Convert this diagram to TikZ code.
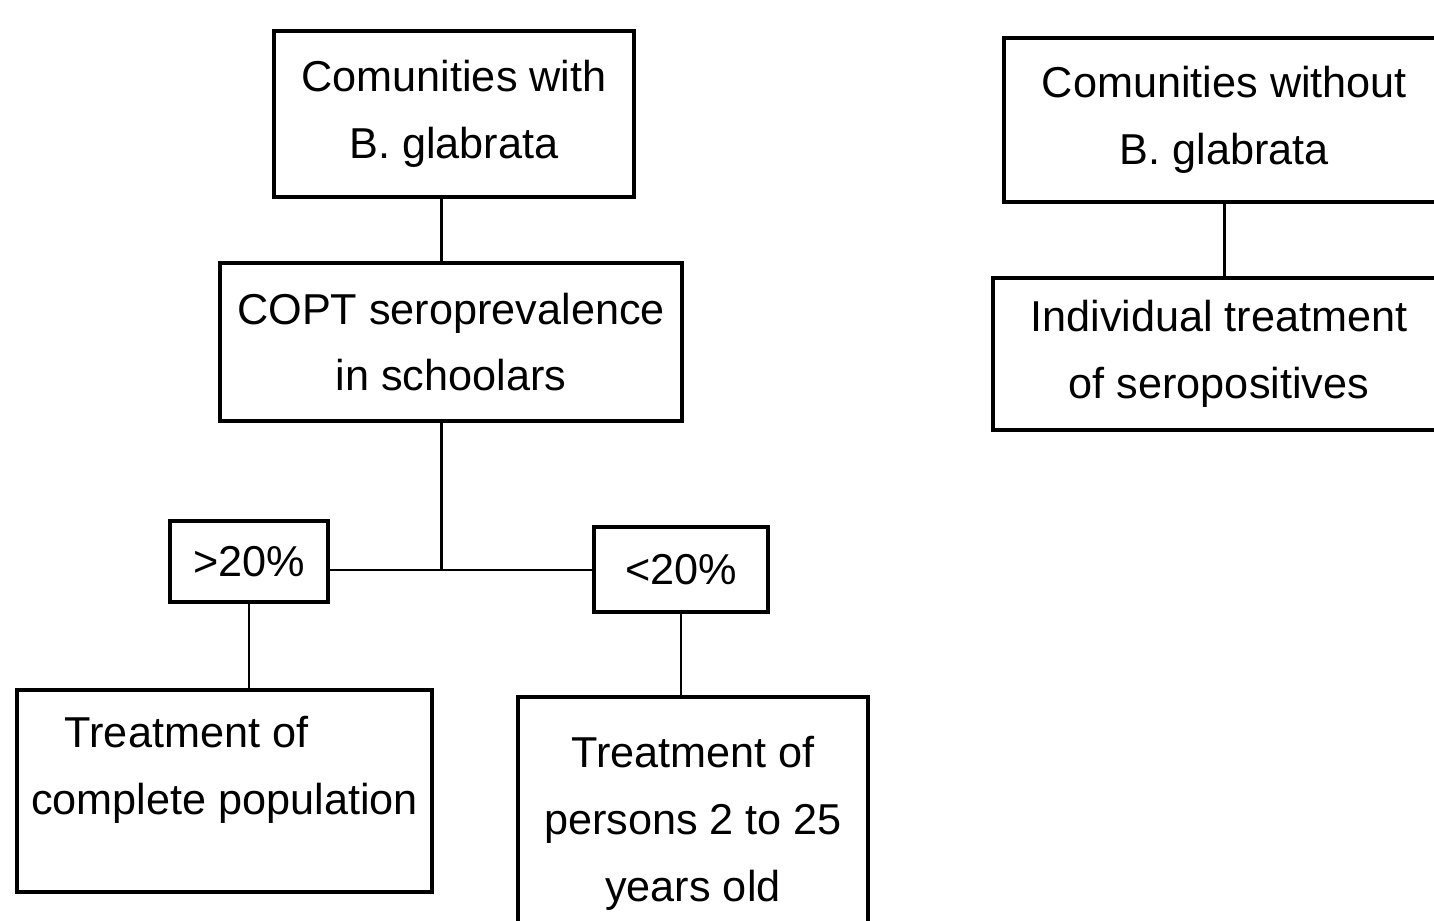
\documentclass[tikz,border=0pt]{standalone}
\usepackage{fontspec}
\setmainfont{Liberation Sans}
\usepackage{tikz}
\definecolor{fcInk}{HTML}{000000}
\tikzset{
  fcnode/.style={
    draw=fcInk, line width=1pt, inner sep=2pt, align=center,
    font=\fontsize{12.3}{19}\selectfont, text=fcInk
  },
  fclink/.style={draw=fcInk, line width=0.75pt}
}
\begin{document}
\begin{tikzpicture}
  \useasboundingbox (0,0) rectangle (14.34,-9.21);
  \fill[white] (0,0) rectangle (14.34,-9.21);
  \node[fcnode, minimum width=3.60cm, minimum height=1.66cm] (with) at (4.54,-1.14) {Comunities with\\B. glabrata};
  \node[fcnode, minimum width=4.62cm, minimum height=1.58cm] (copt) at (4.51,-3.42) {COPT seroprevalence\\in schoolars};
  \node[fcnode, minimum width=1.58cm, minimum height=0.81cm] (high) at (2.49,-5.615) {>20\%};
  \node[fcnode, minimum width=1.74cm, minimum height=0.85cm] (low) at (6.81,-5.695) {<20\%};
  \node[fcnode, minimum width=4.15cm, minimum height=2.02cm] (whole) at (2.245,-7.91) {Treatment of\hspace*{0.76cm}\\complete population\rule[-0.51cm]{0pt}{0.51cm}};
  \node[fcnode, minimum width=3.50cm, minimum height=2.53cm] (young) at (6.93,-8.235) {Treatment of\\persons 2 to 25\\years old};
  \node[fcnode, minimum width=4.41cm, minimum height=1.64cm] (without) at (12.245,-1.20) {Comunities without\\B. glabrata};
  \node[fcnode, minimum width=4.52cm, minimum height=1.52cm] (indiv) at (12.19,-3.54) {Individual treatment\\of seropositives};
  \coordinate (fork) at (4.415,-5.70);
  \draw[fclink] (with.south -| fork) -- (copt.north -| fork);
  \draw[fclink] (copt.south -| fork) -- (fork);
  \draw[fclink] (high.east |- fork) -- (low.west |- fork);
  \draw[fclink] (high.south) -- (high.south |- whole.north);
  \draw[fclink] (low.south) -- (low.south |- young.north);
  \draw[fclink] (without.south) -- (without.south |- indiv.north);
\end{tikzpicture}
\end{document}
